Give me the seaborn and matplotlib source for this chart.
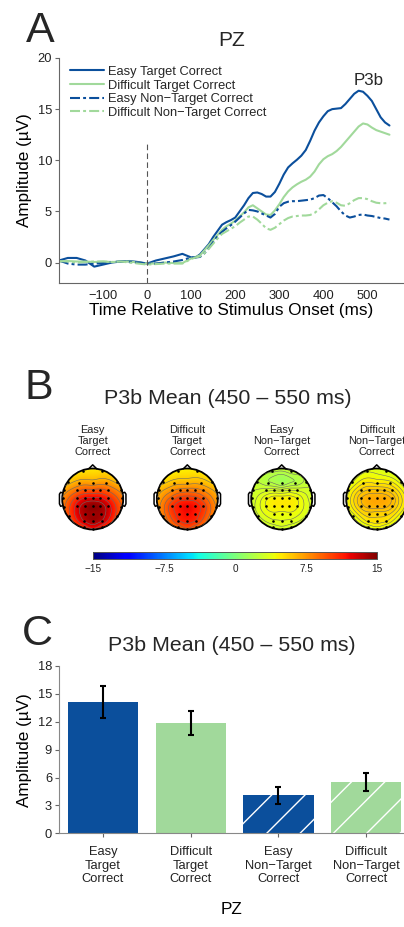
import numpy as np
import pandas as pd
import matplotlib
matplotlib.use("Agg")
import matplotlib.pyplot as plt
import seaborn as sns
from matplotlib.patches import Circle
from matplotlib.lines import Line2D
from matplotlib.cm import ScalarMappable
from matplotlib.colors import Normalize

sns.set_style("ticks")
plt.rcParams["font.family"] = ["Liberation Sans", "DejaVu Sans"]
plt.rcParams["hatch.linewidth"] = 1.0

# ---------------- data ----------------
conditions = ["Easy Target Correct", "Difficult Target Correct",
              "Easy Non\u2212Target Correct", "Difficult Non\u2212Target Correct"]
short_labels = ["Easy\nTarget\nCorrect", "Difficult\nTarget\nCorrect",
                "Easy\nNon\u2212Target\nCorrect", "Difficult\nNon\u2212Target\nCorrect"]
blue = "#0b4f9c"
green = "#a1d99b"
cond_colors = [blue, green, blue, green]

# ERP at PZ (ms, µV)
times = [-200, -180, -160, -140, -120, -100, -80, -60, -40, -20, 0, 20, 40, 60, 80,
         100, 110, 120, 130, 140, 150, 160, 170, 180, 190, 200, 210, 220, 230, 240,
         250, 260, 270, 280, 290, 300, 310, 320, 330, 340, 350, 360, 370, 380, 390,
         400, 410, 420, 430, 440, 450, 460, 470, 480, 490, 500, 510, 520, 530, 540, 550]
easy_target = [0.2, 0.45, 0.45, 0.2, -0.4, -0.2, 0.0, 0.1, 0.15, 0.05, -0.1, 0.2, 0.4, 0.6, 0.85,
               0.5, 0.5, 0.8, 1.3, 1.8, 2.5, 3.1, 3.7, 3.95, 4.15, 4.4, 5.0, 5.6, 6.3, 6.8,
               6.85, 6.7, 6.45, 6.45, 6.9, 7.7, 8.6, 9.3, 9.7, 10.05, 10.45, 11.0, 11.9, 12.9, 13.7,
               14.3, 14.8, 15.0, 15.05, 15.1, 15.5, 16.0, 16.5, 16.8, 16.7, 16.3, 15.8, 15.0, 14.2, 13.7, 13.4]
difficult_target = [0.1, 0.15, 0.1, 0.1, 0.05, 0.1, 0.05, 0.1, 0.1, 0.0, -0.1, -0.1, 0.0, -0.05, -0.05,
                    0.4, 0.55, 0.7, 1.2, 1.7, 2.2, 2.7, 3.2, 3.55, 3.8, 4.1, 4.5, 4.9, 5.4, 5.6,
                    5.3, 5.0, 4.7, 4.65, 5.1, 5.7, 6.4, 6.95, 7.35, 7.65, 7.9, 8.1, 8.4, 8.9, 9.6,
                    10.1, 10.4, 10.6, 10.9, 11.3, 11.8, 12.3, 12.8, 13.3, 13.6, 13.5, 13.2, 12.95, 12.8, 12.65, 12.5]
easy_nontarget = [0.2, -0.1, -0.2, -0.2, -0.1, -0.05, 0.05, 0.1, 0.05, 0.0, -0.1, -0.1, 0.0, 0.1, 0.25,
                  0.5, 0.5, 0.55, 0.9, 1.4, 2.0, 2.6, 3.0, 3.35, 3.65, 4.0, 4.4, 4.8, 5.15, 5.1,
                  5.0, 4.8, 4.6, 4.4, 4.75, 5.45, 5.8, 5.95, 6.0, 6.0, 6.05, 6.1, 6.15, 6.3, 6.55,
                  6.6, 6.3, 5.9, 5.5, 5.0, 4.6, 4.4, 4.5, 4.65, 4.7, 4.6, 4.55, 4.45, 4.35, 4.3, 4.2]
difficult_nontarget = [0.15, 0.1, 0.0, 0.05, 0.1, 0.1, 0.05, 0.1, 0.0, -0.1, -0.2, -0.15, -0.1, -0.1, -0.1,
                       0.35, 0.5, 0.6, 0.9, 1.35, 1.85, 2.35, 2.8, 3.05, 3.3, 3.55, 3.9, 4.2, 4.5, 4.5,
                       4.2, 3.8, 3.35, 3.2, 3.4, 3.75, 4.1, 4.35, 4.5, 4.55, 4.6, 4.6, 4.65, 4.85, 5.2,
                       5.6, 5.85, 6.0, 5.85, 5.6, 5.55, 5.8, 6.1, 6.3, 6.3, 6.2, 6.0, 5.85, 5.8, 5.8, 5.85]
erp_series = [easy_target, difficult_target, easy_nontarget, difficult_nontarget]

# scalp maps: mean 450-550 ms per electrode (µV)
electrodes = ["Fp1", "Fp2", "F7", "F3", "Fz", "F4", "F8", "FT7", "FC3", "FC1", "FCz", "FC2", "FC4", "FT8",
              "T7", "C3", "C1", "Cz", "C2", "C4", "T8", "TP7", "CP3", "CP1", "CPz", "CP2", "CP4", "TP8",
              "P7", "P3", "Pz", "P4", "P8", "PO3", "POz", "PO4", "O1", "Oz", "O2"]
elec_x = [-0.31, 0.31, -0.81, -0.45, 0.0, 0.45, 0.81, -0.93, -0.5, -0.25, 0.0, 0.25, 0.5, 0.93,
          -0.97, -0.5, -0.25, 0.0, 0.25, 0.5, 0.97, -0.93, -0.5, -0.25, 0.0, 0.25, 0.5, 0.93,
          -0.79, -0.26, 0.0, 0.26, 0.79, -0.3, 0.0, 0.3, -0.3, 0.0, 0.3]
elec_y = [0.93, 0.93, 0.57, 0.53, 0.53, 0.53, 0.57, 0.3, 0.28, 0.28, 0.28, 0.28, 0.28, 0.3,
          0.02, 0.02, 0.02, 0.02, 0.02, 0.02, 0.02, -0.27, -0.22, -0.22, -0.22, -0.22, -0.22, -0.27,
          -0.57, -0.48, -0.48, -0.48, -0.57, -0.72, -0.72, -0.72, -0.92, -0.97, -0.92]
topo_easy_target = [5.0, 5.2, 5.8, 7.0, 7.0, 7.2, 6.0, 7.0, 8.8, 9.5, 9.5, 9.6, 9.0, 7.2,
                    8.0, 11.0, 12.0, 12.2, 12.0, 11.0, 8.2, 9.0, 12.5, 14.0, 14.6, 14.0, 12.5, 9.2,
                    10.0, 14.0, 14.1, 14.0, 10.0, 13.2, 14.2, 13.2, 11.0, 11.8, 11.0]
topo_difficult_target = [4.6, 4.8, 5.2, 6.2, 6.4, 6.4, 5.4, 6.2, 7.6, 8.2, 8.4, 8.3, 7.8, 6.4,
                         6.8, 9.3, 10.3, 10.5, 10.3, 9.4, 7.0, 7.6, 10.6, 11.6, 12.0, 11.6, 10.6, 7.8,
                         8.2, 11.4, 11.9, 11.4, 8.3, 10.8, 11.4, 10.8, 9.2, 9.8, 9.2]
topo_easy_nontarget = [2.6, 2.8, 2.4, 2.0, 1.4, 2.0, 2.5, 2.8, 3.2, 3.3, 3.2, 3.4, 3.3, 3.0,
                       3.0, 4.2, 4.6, 4.6, 4.6, 4.3, 3.1, 3.2, 4.4, 4.8, 4.8, 4.8, 4.4, 3.3,
                       3.2, 4.2, 4.1, 4.2, 3.3, 3.7, 3.8, 3.7, 3.0, 3.1, 3.0]
topo_difficult_nontarget = [3.8, 3.4, 3.8, 4.8, 4.8, 4.6, 3.6, 4.2, 5.6, 6.0, 6.0, 5.9, 5.5, 4.0,
                            4.4, 6.4, 6.8, 6.9, 6.8, 6.3, 4.3, 4.4, 6.2, 6.7, 6.8, 6.7, 6.1, 4.3,
                            4.0, 5.7, 5.6, 5.6, 4.0, 5.0, 5.2, 5.0, 3.9, 4.1, 3.9]
topo_series = [topo_easy_target, topo_difficult_target, topo_easy_nontarget, topo_difficult_nontarget]

# bar chart: P3b mean at PZ, with standard error
bar_means = [14.1, 11.85, 4.1, 5.55]
bar_err = [1.7, 1.3, 0.93, 0.98]

# ---------------- figure ----------------
W, H = 404, 927
fig = plt.figure(figsize=(W / 100, H / 100), dpi=100)
txt = "#222222"
spine_c = "#666666"


def fig_box(left, top, right, bottom):
    return [left / W, 1 - bottom / H, (right - left) / W, (bottom - top) / H]


# ---- Panel A: ERP waveforms ----
axA = fig.add_axes(fig_box(59, 58, 404, 283))
rows = []
for cond, vals in zip(conditions, erp_series):
    for t, v in zip(times, vals):
        rows.append((cond, t, v))
erp = pd.DataFrame(rows, columns=["cond", "time", "amp"])
dashdot = (4.8, 1.5, 1.4, 1.5)
dash_map = {conditions[0]: "", conditions[1]: "", conditions[2]: dashdot, conditions[3]: dashdot}
sns.lineplot(data=erp, x="time", y="amp", hue="cond", style="cond",
             hue_order=conditions, style_order=conditions,
             palette=dict(zip(conditions, cond_colors)), dashes=dash_map,
             estimator=None, linewidth=1.5, legend=False, ax=axA)
axA.vlines(0, -2, 11.8, colors="#555555", linestyles=(0, (5, 3)), linewidth=0.8)
axA.set_xlim(-200, 583)
axA.set_ylim(-2, 20)
axA.set_xticks([-100, 0, 100, 200, 300, 400, 500])
axA.set_yticks([0, 5, 10, 15, 20])
axA.set_xlabel("Time Relative to Stimulus Onset (ms)", fontsize=12.3, color="k", labelpad=1)
axA.set_ylabel("Amplitude (\u00b5V)", fontsize=12.3, color="k")
axA.yaxis.set_label_coords(-0.078, 0.5)
axA.set_title("PZ", fontsize=15, pad=8.5)
axA.text(502, 17.4, "P3b", fontsize=12.2, ha="center", va="baseline")
handles = [Line2D([], [], color=c, lw=1.5, dashes=(dashdot if i > 1 else (None, None)))
           for i, c in enumerate(cond_colors)]
for h in handles[:2]:
    h.set_linestyle("-")
axA.legend(handles, conditions, loc="upper left", bbox_to_anchor=(0.032, 0.965),
           frameon=False, fontsize=9.3, handlelength=2.6, handletextpad=0.35,
           labelspacing=0.12, borderpad=0, borderaxespad=0)
sns.despine(ax=axA)
for s in ["left", "bottom"]:
    axA.spines[s].set_color(spine_c)
    axA.spines[s].set_linewidth(0.8)
axA.tick_params(axis="y", length=3, width=0.8, color=spine_c, labelsize=9.3, labelcolor=txt, pad=2)
axA.tick_params(axis="x", length=0, labelsize=9.3, labelcolor=txt, pad=5)

# ---- Panel B: scalp maps ----
fig.text(228 / W, 1 - 404 / H, "P3b Mean (450 \u2013 550 ms)", fontsize=15.4, ha="center", va="baseline")
ex = np.array(elec_x)
ey = np.array(elec_y)
gx, gy = np.meshgrid(np.linspace(-1.05, 1.05, 211), np.linspace(-1.05, 1.05, 211))


def spline_surface(vals):
    # thin-plate spline through the electrode values
    d = np.hypot(ex[:, None] - ex[None, :], ey[:, None] - ey[None, :])
    K = np.where(d > 0, d ** 2 * np.log(np.maximum(d, 1e-12)), 0.0)
    n = len(ex)
    P = np.column_stack([np.ones(n), ex, ey])
    A = np.zeros((n + 3, n + 3))
    A[:n, :n] = K
    A[:n, n:] = P
    A[n:, :n] = P.T
    w = np.linalg.solve(A, np.concatenate([np.asarray(vals, float), np.zeros(3)]))
    dg = np.hypot(gx[..., None] - ex, gy[..., None] - ey)
    Kg = np.where(dg > 0, dg ** 2 * np.log(np.maximum(dg, 1e-12)), 0.0)
    return Kg @ w[:n] + w[n] + w[n + 1] * gx + w[n + 2] * gy


head_cx = [92.7, 187.3, 281.7, 376.7]
head_cy = 499
rpx = 30.5
norm = Normalize(-15, 15)
for cx, label, vals in zip(head_cx, short_labels, topo_series):
    fig.text(cx / W, 1 - 441 / H, label, fontsize=7.9, ha="center", va="center",
             linespacing=1.12, color=txt)
    span = rpx * 1.25
    axH = fig.add_axes(fig_box(cx - span, head_cy - span, cx + span, head_cy + span))
    axH.set_xlim(-1.25, 1.25)
    axH.set_ylim(-1.25, 1.25)
    axH.axis("off")
    Z = spline_surface(vals)
    clip = Circle((0, 0), 1.0, transform=axH.transData, facecolor="none", edgecolor="none")
    axH.add_patch(clip)
    im = axH.imshow(Z, extent=(-1.05, 1.05, -1.05, 1.05), origin="lower", cmap="jet",
                    norm=norm, interpolation="bilinear")
    im.set_clip_path(clip)
    lv = np.linspace(min(vals), max(vals), 8)[1:-1]
    cs = axH.contour(gx, gy, Z, levels=lv, colors="#6a6a6a", linewidths=0.4)
    cs.set_clip_path(clip)
    axH.add_patch(Circle((0, 0), 1.0, fill=False, ec="k", lw=1.3))
    axH.plot([-0.13, 0.0, 0.13], [0.99, 1.12, 0.99], color="k", lw=1.1)
    for sgn in (-1, 1):
        axH.plot([sgn * 0.99, sgn * 1.05, sgn * 1.09, sgn * 1.09, sgn * 1.05, sgn * 0.99],
                 [0.2, 0.22, 0.16, -0.16, -0.24, -0.22], color="k", lw=1.1)
    axH.scatter(ex, ey, s=3.5, c="k", linewidths=0, zorder=5)

cax = fig.add_axes(fig_box(93, 551.5, 377, 558.5))
cb = fig.colorbar(ScalarMappable(norm=norm, cmap="jet"), cax=cax, orientation="horizontal",
                  ticks=[-15, -7.5, 0, 7.5, 15])
cb.set_ticklabels(["\u221215", "\u22127.5", "0", "7.5", "15"])
cb.outline.set_edgecolor("#555555")
cb.outline.set_linewidth(0.7)
cax.tick_params(direction="in", length=2, width=0.7, color="#333333", top=True,
                labelsize=7.2, labelcolor=txt, pad=4)

# ---- Panel C: bar chart ----
axC = fig.add_axes(fig_box(59, 666, 404, 833.3))
sns.barplot(x=short_labels, y=bar_means, hue=short_labels, palette=cond_colors,
            saturation=1, width=0.8, legend=False, ax=axC)
for i, p in enumerate(axC.patches):
    p.set_linewidth(0)
    if i >= 2:
        p.set_hatch("/")
        p.set_edgecolor("white")
axC.errorbar(range(len(bar_means)), bar_means, yerr=bar_err, fmt="none", ecolor="k",
             elinewidth=1.5, capsize=2.5, capthick=1.5, zorder=5)
axC.set_xlim(-0.5, 3.43)
axC.set_ylim(0, 18)
axC.set_yticks([0, 3, 6, 9, 12, 15, 18])
axC.set_title("P3b Mean (450 \u2013 550 ms)", fontsize=15.4, pad=11)
axC.set_ylabel("Amplitude (\u00b5V)", fontsize=12.3, color="k")
axC.yaxis.set_label_coords(-0.078, 0.5)
axC.set_xlabel("PZ", fontsize=12.3, color="k", labelpad=12)
sns.despine(ax=axC)
for s in ["left", "bottom"]:
    axC.spines[s].set_color("#888888")
    axC.spines[s].set_linewidth(0.8)
axC.tick_params(axis="y", length=3, width=0.8, color=spine_c, labelsize=9.3, labelcolor=txt, pad=2)
axC.tick_params(axis="x", length=3, width=0.8, color=spine_c, labelsize=9.3, labelcolor=txt, pad=6)

# panel letters
fig.text(26 / W, 1 - 42 / H, "A", fontsize=31, va="baseline")
fig.text(24 / W, 1 - 399 / H, "B", fontsize=31, va="baseline")
fig.text(22 / W, 1 - 645 / H, "C", fontsize=31, va="baseline")

fig.savefig("out.png", dpi=100)
